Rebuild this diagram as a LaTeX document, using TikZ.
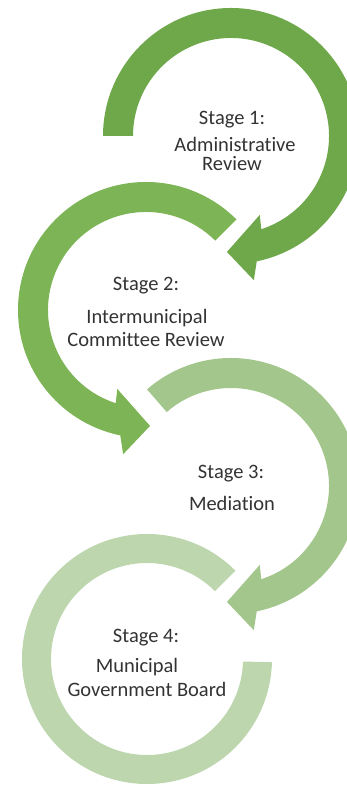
\documentclass[tikz,border=0pt]{standalone}
\usepackage{fontspec}
\setmainfont{Carlito}[Ligatures={NoCommon}, RawFeature={-liga;-clig}]
\definecolor{gA}{RGB}{110,168,74}
\definecolor{gB}{RGB}{124,180,86}
\definecolor{gC}{RGB}{163,198,140}
\definecolor{gD}{RGB}{189,214,174}
\begin{document}
\begin{tikzpicture}[x=1pt,y=1pt,
  lbl/.style={anchor=base, inner sep=0pt, text=black!80, font=\fontsize{20.5}{24}\selectfont}]
\useasboundingbox (0,0) rectangle (347,791);
\clip (0,0) rectangle (347,791);
\coordinate (c1) at (231,655);
\coordinate (c2) at (146,481);
\coordinate (c3) at (231,305);
\coordinate (c4) at (147,132);
% arc 1 (clockwise)
\fill[gA] ([shift={(c1)}]180:128) arc[start angle=180, end angle=-78.4, radius=128]
  -- ([shift={(c1)}]-81:146) -- ([shift={(c1)}]-92:116) -- ([shift={(c1)}]-70:84)
  -- ([shift={(c1)}]-72:98) arc[start angle=-72, end angle=180, radius=98] -- cycle;
% arc 2 (counter-clockwise)
\fill[gB] ([shift={(c2)}]45:128) arc[start angle=45, end angle=258.4, radius=128]
  -- ([shift={(c2)}]261:146) -- ([shift={(c2)}]272:116) -- ([shift={(c2)}]250:84)
  -- ([shift={(c2)}]252:98) arc[start angle=252, end angle=45, radius=98] -- cycle;
% arc 3 (clockwise)
\fill[gC] ([shift={(c3)}]131:128) arc[start angle=131, end angle=-78.4, radius=128]
  -- ([shift={(c3)}]-81:146) -- ([shift={(c3)}]-92:116) -- ([shift={(c3)}]-70:84)
  -- ([shift={(c3)}]-72:98) arc[start angle=-72, end angle=131, radius=98] -- cycle;
% arc 4 (counter-clockwise, no head)
\fill[gD] ([shift={(c4)}]45:125) arc[start angle=45, end angle=358.5, radius=125]
  -- ([shift={(c4)}]358.5:96) arc[start angle=358.5, end angle=45, radius=96] -- cycle;
% labels
\node[lbl] (s1) at (232,666) {Stage 1:};
\node[lbl] (t1a) at (235,639) {Administrative};
\node[lbl] (t1b) at (232,620) {Review};
\node[lbl] (s2) at (146,500) {Stage 2:};
\node[lbl] (t2a) at (147,467) {Intermunicipal};
\node[lbl] (t2b) at (146,444) {Committee Review};
\node[lbl] (s3) at (231,312) {Stage 3:};
\node[lbl] (t3a) at (232,280) {Mediation};
\node[lbl] (s4) at (146,148) {Stage 4:};
\node[lbl] (t4a) at (137,118) {Municipal};
\node[lbl] (t4b) at (147,94) {Government Board};
\end{tikzpicture}
\end{document}
